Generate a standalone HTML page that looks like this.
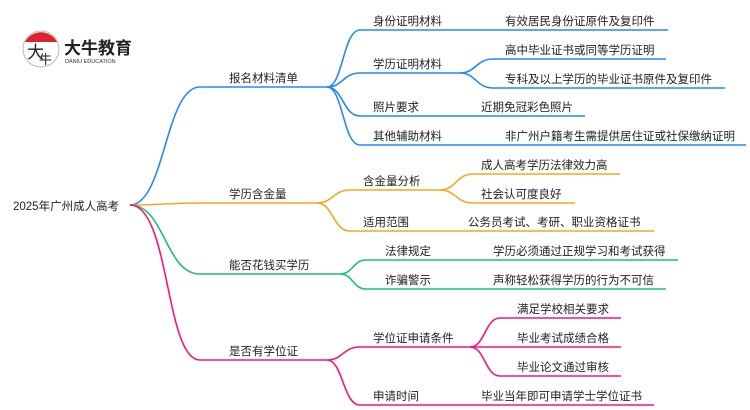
<!DOCTYPE html>
<html><head><meta charset="utf-8"><style>
html,body{margin:0;padding:0;background:#fff;}
svg{display:block;font-family:"Liberation Sans","Noto Sans CJK SC",sans-serif;}
text{font-size:11.5px;fill:#222;}
</style></head><body>
<svg width="750" height="410" viewBox="0 0 750 410" xmlns="http://www.w3.org/2000/svg">
<!-- logo -->
<circle cx="41" cy="49" r="18" fill="#fff" stroke="#bbb" stroke-width="1"/>
<path d="M25,42 A18,18 0 0 1 57,42 Z" fill="#d9232d"/>
<text x="27" y="58" style="font-size:17px;fill:#222">大</text>
<text x="39" y="64" style="font-size:13px;fill:#222">牛</text>
<text x="64" y="54" style="font-size:17px;font-weight:bold;fill:#222">大牛教育</text>
<text x="65" y="63" style="font-size:5.5px;fill:#333">DANIU EDUCATION</text>

<g fill="none" stroke-width="1.6">
<g stroke="#2389f5">
<path d="M130,205 C165,205 165,87 200,87 L327,87"/>
<path d="M327,87 C343,87 343,30 360,30 L668,30"/>
<path d="M327,87 C343,87 343,73 360,73 L460,73"/>
<path d="M327,87 C343,87 343,116 360,116 L585,116"/>
<path d="M327,87 C343,87 343,145 360,145 L746,145"/>
<path d="M460,73 C476,73 476,59 493,59 L666,59"/>
<path d="M460,73 C476,73 476,88 493,88 L725,88"/>
</g>
<g stroke="#f5a623">
<path d="M130,205 C165,205 165,203 200,203 L317,203"/>
<path d="M317,203 C333,203 333,190 350,190 L440,190"/>
<path d="M317,203 C333,203 333,231 350,231 L654,231"/>
<path d="M440,190 C456,190 456,174 473,174 L620,174"/>
<path d="M440,190 C456,190 456,203 473,203 L575,203"/>
</g>
<g stroke="#1dbf73">
<path d="M130,205 C165,205 165,274 200,274 L340,274"/>
<path d="M340,274 C353,274 353,260 366,260 L678,260"/>
<path d="M340,274 C353,274 353,289 366,289 L666,289"/>
</g>
<g stroke="#f5157a">
<path d="M130,205 C170,205 165,360 200,360 L327,360"/>
<path d="M327,360 C343,360 343,347 360,347 L470,347"/>
<path d="M327,360 C343,360 343,405 360,405 L654,405"/>
<path d="M470,347 C485,347 485,318 500,318 L621,318"/>
<path d="M470,347 L621,347"/>
<path d="M470,347 C485,347 485,376 500,376 L621,376"/>
</g>
</g>

<text x="13" y="210">2025年广州成人高考</text>
<text x="229" y="82">报名材料清单</text>
<text x="229" y="198">学历含金量</text>
<text x="229" y="269">能否花钱买学历</text>
<text x="229" y="355">是否有学位证</text>

<text x="373" y="25">身份证明材料</text>
<text x="505" y="25">有效居民身份证原件及复印件</text>
<text x="373" y="68">学历证明材料</text>
<text x="505" y="54">高中毕业证书或同等学历证明</text>
<text x="505" y="83">专科及以上学历的毕业证书原件及复印件</text>
<text x="373" y="111">照片要求</text>
<text x="481" y="111">近期免冠彩色照片</text>
<text x="373" y="140">其他辅助材料</text>
<text x="505" y="140">非广州户籍考生需提供居住证或社保缴纳证明</text>

<text x="363" y="185">含金量分析</text>
<text x="481" y="169">成人高考学历法律效力高</text>
<text x="481" y="198">社会认可度良好</text>
<text x="363" y="226">适用范围</text>
<text x="468" y="226">公务员考试、考研、职业资格证书</text>

<text x="385" y="255">法律规定</text>
<text x="493" y="255">学历必须通过正规学习和考试获得</text>
<text x="385" y="284">诈骗警示</text>
<text x="493" y="284">声称轻松获得学历的行为不可信</text>

<text x="373" y="342">学位证申请条件</text>
<text x="517" y="313">满足学校相关要求</text>
<text x="517" y="342">毕业考试成绩合格</text>
<text x="517" y="371">毕业论文通过审核</text>
<text x="373" y="400">申请时间</text>
<text x="481" y="400">毕业当年即可申请学士学位证书</text>
</svg>
</body></html>
